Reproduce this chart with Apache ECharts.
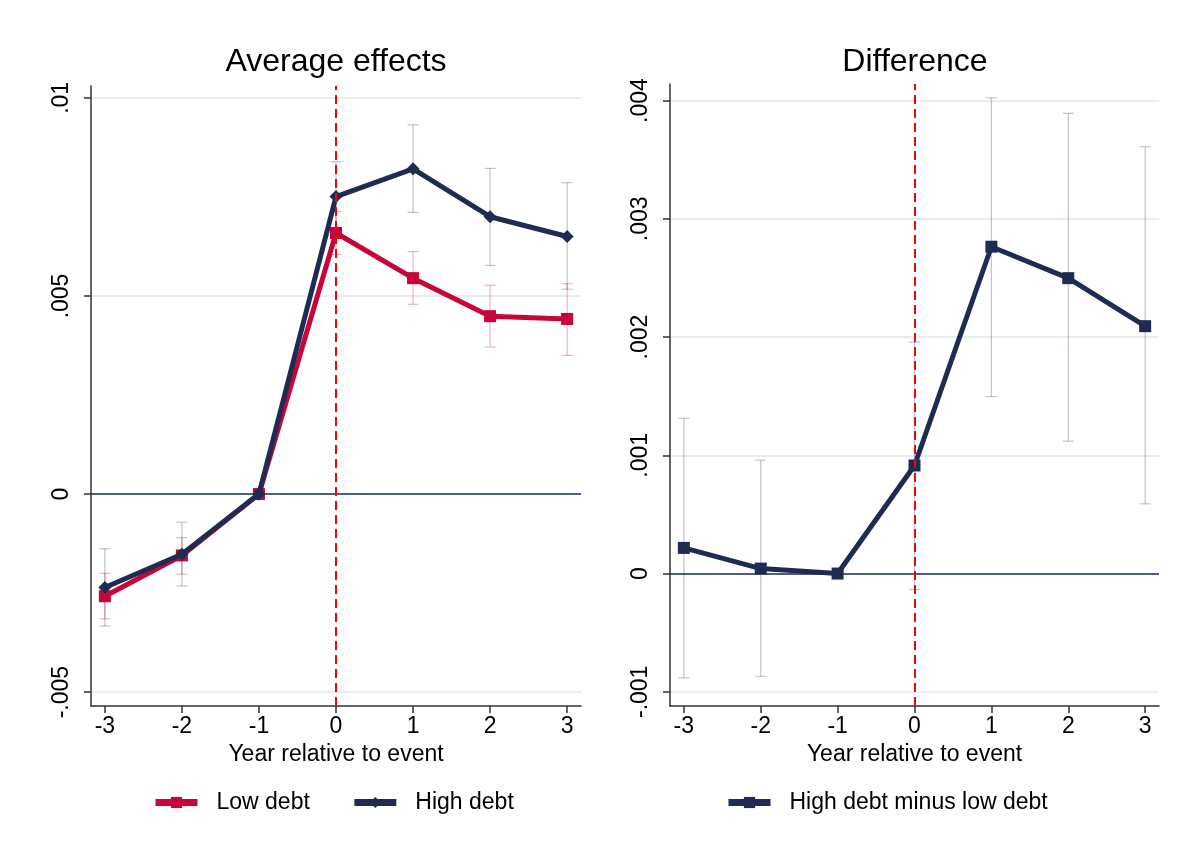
<!DOCTYPE html>
<html>
<head>
<meta charset="utf-8">
<script src="https://cdn.jsdelivr.net/npm/echarts@6/dist/echarts.min.js"></script>
<style>
  html, body { margin: 0; padding: 0; background: #fff; }
  #chart { width: 1200px; height: 867px; }
</style>
</head>
<body>
<div id="chart"></div>
<script>
// event time
const years = [-3, -2, -1, 0, 1, 2, 3];
// left panel: average effects
const lowDebt    = [-0.00258, -0.00155, 0, 0.00659, 0.00545, 0.00449, 0.00442];
const lowDebtLo  = [-0.00315, -0.00202, 0, 0.00605, 0.00479, 0.00371, 0.00350];
const lowDebtHi  = [-0.00200, -0.00110, 0, 0.00713, 0.00612, 0.00527, 0.00531];
const highDebt   = [-0.00236, -0.00152, 0, 0.00751, 0.00821, 0.00700, 0.00650];
const highDebtLo = [-0.00333, -0.00232, 0, 0.00662, 0.00711, 0.00577, 0.00517];
const highDebtHi = [-0.00138, -0.00071, 0, 0.00839, 0.00932, 0.00822, 0.00786];
// right panel: difference
const diff   = [0.000217, 0.000042, 0, 0.000914, 0.002764, 0.002498, 0.002092];
const diffLo = [-0.000882, -0.000869, 0, -0.000135, 0.001497, 0.001119, 0.000590];
const diffHi = [0.001314, 0.000959, 0, 0.001957, 0.004024, 0.003892, 0.003610];
// tick labels
const leftTicks  = [-0.005, 0, 0.005, 0.01];
const rightTicks = [-0.001, 0, 0.001, 0.002, 0.003, 0.004];

const NAVY = '#1e2c54';
const RED = '#c70538';
const FONT = '"Liberation Sans", Arial, sans-serif';

let chart = echarts.init(document.getElementById('chart'));

function fmt(v) {
  if (Math.abs(v) < 1e-12) return '0';
  return String(+v.toFixed(4)).replace('0.', '.');
}

// rcap style error bars
function capRender(color) {
  return function (params, api) {
    let x = api.value(0), lo = api.value(1), hi = api.value(2);
    if (lo === hi) return;
    let p1 = api.coord([x, lo]), p2 = api.coord([x, hi]);
    let w = 5.5;
    let style = { stroke: color, lineWidth: 1.2 };
    return {
      type: 'group',
      children: [
        { type: 'line', shape: { x1: p1[0], y1: p1[1], x2: p2[0], y2: p2[1] }, style: style },
        { type: 'line', shape: { x1: p1[0] - w, y1: p1[1], x2: p1[0] + w, y2: p1[1] }, style: style },
        { type: 'line', shape: { x1: p2[0] - w, y1: p2[1], x2: p2[0] + w, y2: p2[1] }, style: style }
      ]
    };
  };
}

function ciData(lo, hi) {
  return years.map((y, i) => [y, lo[i], hi[i]]);
}

function xAxisOpt(gridIndex) {
  return {
    type: 'value', gridIndex: gridIndex, min: -3.18, max: 3.18,
    name: 'Year relative to event', nameLocation: 'middle', nameGap: 34,
    nameTextStyle: { fontSize: 23, color: '#000', fontFamily: FONT },
    axisLine: { onZero: false, lineStyle: { color: '#333', width: 1.5 } },
    axisTick: { customValues: years, length: 7, lineStyle: { color: '#333', width: 1.5 } },
    axisLabel: { customValues: years, fontSize: 23, color: '#000', fontFamily: FONT, margin: 9 },
    splitLine: { show: false }
  };
}

function yAxisOpt(gridIndex, min, max, ticks) {
  return {
    type: 'value', gridIndex: gridIndex, min: min, max: max,
    axisLine: { show: true, onZero: false, lineStyle: { color: '#333', width: 1.5 } },
    axisTick: { show: true, customValues: ticks, length: 7, lineStyle: { color: '#333', width: 1.5 } },
    axisLabel: { customValues: ticks, rotate: 90, align: 'center', verticalAlign: 'bottom',
      fontSize: 23, color: '#000', fontFamily: FONT, margin: 18, formatter: fmt },
    splitLine: { show: true, lineStyle: { color: '#e6eef2', width: 2 } }
  };
}

function refLines() {
  return {
    silent: true, symbol: 'none', animation: false,
    label: { show: false },
    data: [
      { yAxis: 0, lineStyle: { color: NAVY, width: 1.6, type: 'solid' } },
      { xAxis: 0, lineStyle: { color: '#ff0000', width: 2, type: [9, 5] } }
    ]
  };
}

let legendText = { fontSize: 23, color: '#000', fontFamily: FONT, padding: [0, 0, 0, 14] };

let option = {
  backgroundColor: '#fff',
  animation: false,
  title: [
    { text: 'Average effects', left: 331, top: 41, textAlign: 'center',
      textStyle: { fontSize: 32, fontWeight: 'normal', color: '#000', fontFamily: FONT } },
    { text: 'Difference', left: 910, top: 41, textAlign: 'center',
      textStyle: { fontSize: 32, fontWeight: 'normal', color: '#000', fontFamily: FONT } }
  ],
  legend: [
    { data: ['Low debt', 'High debt'], left: 147, top: 786, itemWidth: 42, itemHeight: 14, itemGap: 41,
      lineStyle: { width: 7 }, textStyle: legendText },
    { data: ['High debt minus low debt'], left: 720, top: 786, itemWidth: 42, itemHeight: 14,
      lineStyle: { width: 7 }, textStyle: legendText }
  ],
  grid: [
    { left: 91, top: 86, width: 490, height: 620 },
    { left: 670, top: 84, width: 489, height: 622 }
  ],
  xAxis: [xAxisOpt(0), xAxisOpt(1)],
  yAxis: [
    yAxisOpt(0, -0.00535, 0.0103, leftTicks),
    yAxisOpt(1, -0.00112, 0.00414, rightTicks)
  ],
  series: [
    {
      name: 'ci low', type: 'custom', xAxisIndex: 0, yAxisIndex: 0, z: 1,
      renderItem: capRender('rgba(199,5,56,0.3)'), encode: { x: 0, y: [1, 2] },
      data: ciData(lowDebtLo, lowDebtHi), markLine: refLines()
    },
    {
      name: 'ci high', type: 'custom', xAxisIndex: 0, yAxisIndex: 0, z: 1,
      renderItem: capRender('rgba(30,44,84,0.28)'), encode: { x: 0, y: [1, 2] },
      data: ciData(highDebtLo, highDebtHi)
    },
    {
      name: 'Low debt', type: 'line', xAxisIndex: 0, yAxisIndex: 0, z: 3,
      data: years.map((y, i) => [y, lowDebt[i]]),
      symbol: 'rect', symbolSize: 12, color: RED,
      lineStyle: { width: 5, color: RED }, itemStyle: { color: RED }
    },
    {
      name: 'High debt', type: 'line', xAxisIndex: 0, yAxisIndex: 0, z: 4,
      data: years.map((y, i) => [y, highDebt[i]]),
      symbol: 'diamond', symbolSize: 13, color: NAVY,
      lineStyle: { width: 5, color: NAVY }, itemStyle: { color: NAVY }
    },
    {
      name: 'ci diff', type: 'custom', xAxisIndex: 1, yAxisIndex: 1, z: 1,
      renderItem: capRender('rgba(30,44,84,0.28)'), encode: { x: 0, y: [1, 2] },
      data: ciData(diffLo, diffHi), markLine: refLines()
    },
    {
      name: 'High debt minus low debt', type: 'line', xAxisIndex: 1, yAxisIndex: 1, z: 3,
      data: years.map((y, i) => [y, diff[i]]),
      symbol: 'rect', symbolSize: 12, color: NAVY,
      lineStyle: { width: 5, color: NAVY }, itemStyle: { color: NAVY }
    }
  ]
};

chart.setOption(option);
window.addEventListener('resize', function () { chart.resize(); });
</script>
</body>
</html>
